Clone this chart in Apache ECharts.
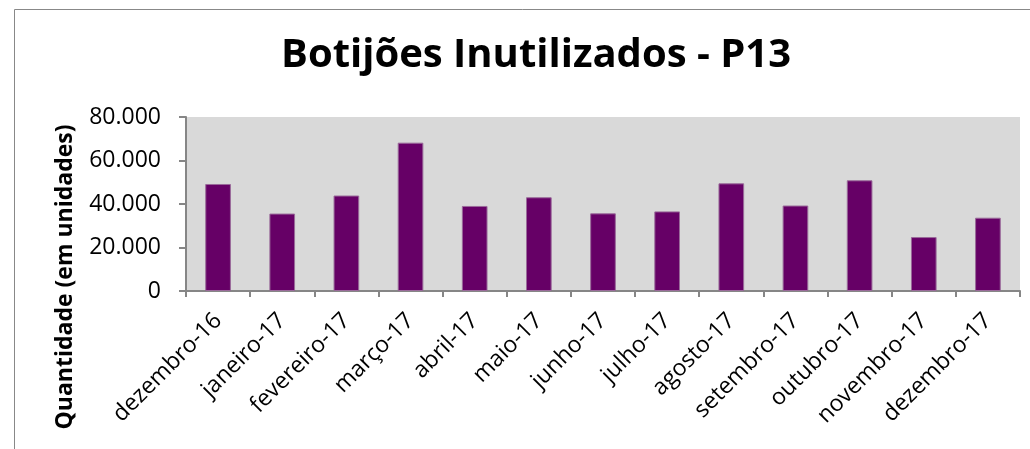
<!DOCTYPE html>
<html lang="pt-BR">
<head>
    <meta charset="UTF-8">
    <title>Botijões Inutilizados - P13</title>
    <script src="https://cdn.jsdelivr.net/npm/echarts@6/dist/echarts.min.js"></script>
</head>
<body style="margin:0;background:#fff;">
<div id="main" style="width:1030px;height:449px;"></div>
<script type="text/javascript">
    // dados do gráfico
    var meses = ['dezembro-16', 'janeiro-17', 'fevereiro-17', 'março-17', 'abril-17', 'maio-17',
        'junho-17', 'julho-17', 'agosto-17', 'setembro-17', 'outubro-17', 'novembro-17', 'dezembro-17'];
    var quantidades = [49200, 35600, 43900, 68200, 39100, 43100, 35700, 36600, 49500, 39300, 50900, 24800, 33700];
    var ticksY = [0, 20000, 40000, 60000, 80000];

    function fmt(v) {
        return String(v).replace(/\B(?=(\d{3})+(?!\d))/g, '.');
    }

    var myChart = echarts.init(document.getElementById('main'));
    myChart.setOption({
        animation: false,
        title: {
            text: 'Botijões Inutilizados - P13',
            left: 276,
            top: 31,
            textStyle: {fontFamily: 'Open Sans', fontWeight: 'bold', fontSize: 40, color: '#000'}
        },
        graphic: [
            {
                type: 'rect', left: 12, top: 7,
                shape: {width: 1040, height: 470},
                style: {fill: 'none', stroke: '#888', lineWidth: 1}
            },
            {
                type: 'text', x: 65, y: 277, rotation: Math.PI / 2,
                style: {
                    text: 'Quantidade (em unidades)', fill: '#000',
                    font: 'bold 23px "Open Sans"', align: 'center', verticalAlign: 'middle'
                }
            }
        ],
        grid: {
            left: 186, right: 10, top: 117, bottom: 158,
            show: true, backgroundColor: '#d9d9d9', borderWidth: 0
        },
        xAxis: {
            type: 'category',
            data: meses,
            axisLine: {lineStyle: {color: '#868686', width: 2}},
            axisTick: {show: true, alignWithLabel: false, length: 6, lineStyle: {color: '#868686', width: 2}},
            axisLabel: {rotate: 45, interval: 0, margin: 26, color: '#000', fontFamily: 'Open Sans', fontSize: 23}
        },
        yAxis: {
            type: 'value',
            min: 0, max: 80000, interval: 20000,
            axisLine: {show: true, lineStyle: {color: '#868686', width: 2}},
            axisTick: {show: true, length: 7, lineStyle: {color: '#868686', width: 2}},
            splitLine: {show: false},
            axisLabel: {
                color: '#000', fontFamily: 'Open Sans', fontSize: 23, margin: 25,
                formatter: function (v) { return ticksY.indexOf(v) >= 0 ? fmt(v) : ''; }
            }
        },
        series: [{
            type: 'bar',
            data: quantidades,
            barWidth: '40%',
            itemStyle: {color: '#660066', borderColor: '#9a6a9a', borderWidth: 1}
        }]
    });
</script>
</body>
</html>
